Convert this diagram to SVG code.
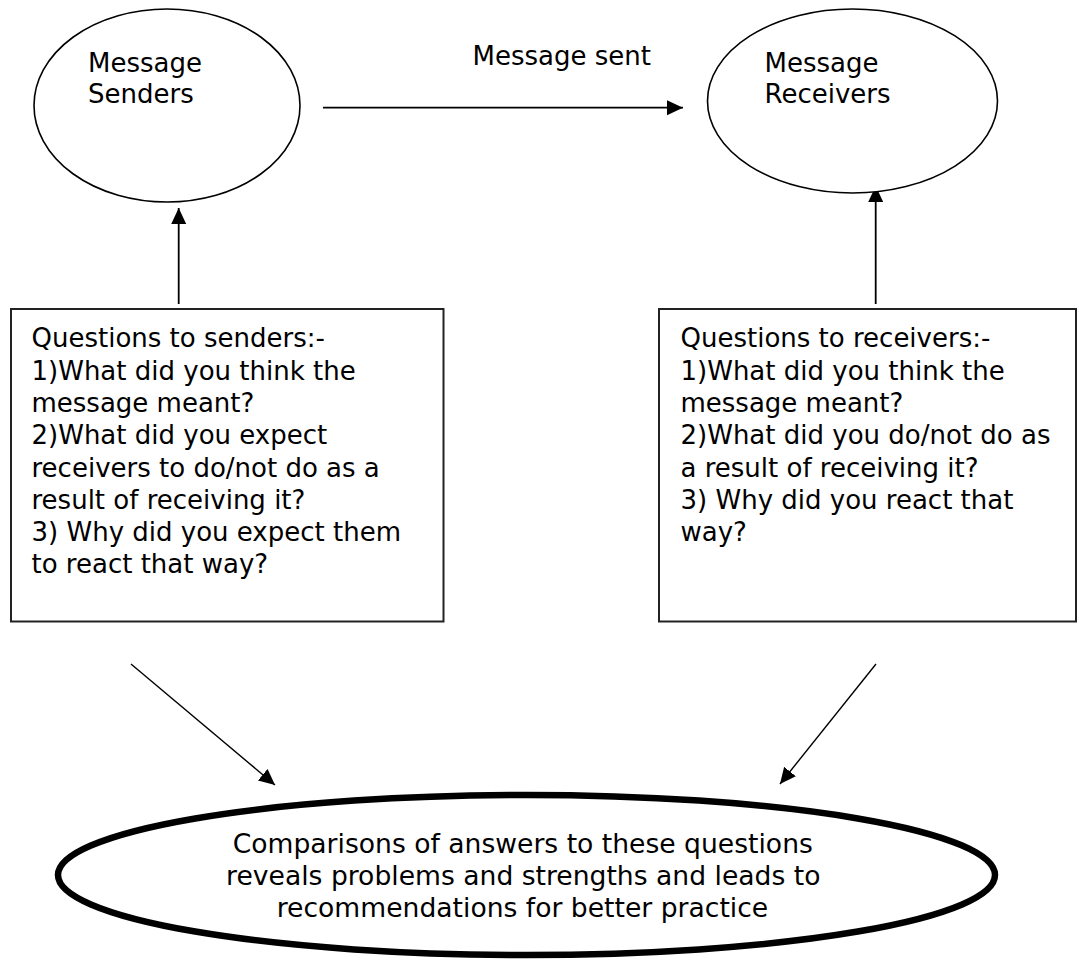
<svg xmlns="http://www.w3.org/2000/svg" width="1079" height="960" viewBox="0 0 1079 960">
  <style>
    .bg { fill: #ffffff; }
    .oval { fill: #ffffff; stroke: #000000; stroke-width: 1.6; }
    .oval-bold { fill: #ffffff; stroke: #000000; stroke-width: 6.5; }
    .box { fill: #ffffff; stroke: #222222; stroke-width: 2; }
    .link { fill: none; stroke: #000000; stroke-width: 1.8; marker-end: url(#head); }
    .link-thin { fill: none; stroke: #000000; stroke-width: 1.4; marker-end: url(#head); }
    .txt { font-family: "DejaVu Sans", Verdana, sans-serif; font-size: 26px; fill: #000000; }
    .big { font-size: 26.6px; }
    .mid { text-anchor: middle; }
  </style>
  <defs>
    <marker id="head" markerUnits="userSpaceOnUse" markerWidth="18" markerHeight="17" refX="16" refY="7.5" orient="auto">
      <path d="M0,0 L16,7.5 L0,15 z" fill="#000000"/>
    </marker>
  </defs>

  <rect class="bg" x="0" y="0" width="1079" height="960"/>

  <!-- connectors -->
  <g id="connectors">
    <line class="link" x1="323" y1="107.7" x2="683" y2="107.7"/>
    <text class="txt" x="472.5" y="65">Message sent</text>
    <line class="link" x1="178.7" y1="304" x2="178.7" y2="208"/>
    <line class="link" x1="875.7" y1="304" x2="875.7" y2="186"/>
    <line class="link-thin" x1="131" y1="664" x2="275" y2="785"/>
    <line class="link-thin" x1="876" y1="664" x2="780" y2="784"/>
  </g>

  <!-- senders -->
  <g id="senders">
    <ellipse class="oval" cx="167" cy="105.5" rx="133" ry="96.5"/>
    <text class="txt" x="88" y="72">Message</text>
    <text class="txt" x="88" y="103">Senders</text>
  </g>

  <!-- receivers -->
  <g id="receivers">
    <ellipse class="oval" cx="852.5" cy="101" rx="145" ry="92"/>
    <text class="txt" x="764.5" y="72">Message</text>
    <text class="txt" x="764.5" y="103">Receivers</text>
  </g>

  <!-- questions for senders -->
  <g id="sender-questions">
    <rect class="box" x="11" y="309" width="432.5" height="312.5"/>
    <text class="txt" x="31.5">
      <tspan x="31.5" y="347">Questions to senders:-</tspan>
      <tspan x="31.5" y="379.5">1)What did you think the</tspan>
      <tspan x="31.5" y="411.8">message meant?</tspan>
      <tspan x="31.5" y="444">2)What did you expect</tspan>
      <tspan x="31.5" y="476.5">receivers to do/not do as a</tspan>
      <tspan x="31.5" y="508.8">result of receiving it?</tspan>
      <tspan x="31.5" y="541">3) Why did you expect them</tspan>
      <tspan x="31.5" y="573.3">to react that way?</tspan>
    </text>
  </g>

  <!-- questions for receivers -->
  <g id="receiver-questions">
    <rect class="box" x="659" y="309" width="417" height="312.5"/>
    <text class="txt" x="680.5">
      <tspan x="680.5" y="347">Questions to receivers:-</tspan>
      <tspan x="680.5" y="379.5">1)What did you think the</tspan>
      <tspan x="680.5" y="411.8">message meant?</tspan>
      <tspan x="680.5" y="444">2)What did you do/not do as</tspan>
      <tspan x="680.5" y="476.5">a result of receiving it?</tspan>
      <tspan x="680.5" y="508.8">3) Why did you react that</tspan>
      <tspan x="680.5" y="541">way?</tspan>
    </text>
  </g>

  <!-- comparison outcome -->
  <g id="comparison">
    <ellipse class="oval-bold" cx="526.5" cy="875" rx="468.5" ry="80"/>
    <text class="txt big mid">
      <tspan x="527" y="853">Comparisons of answers to these questions</tspan>
      <tspan x="527.5" y="885">reveals problems and strengths and leads to</tspan>
      <tspan x="522.5" y="917">recommendations for better practice</tspan>
    </text>
  </g>
</svg>
